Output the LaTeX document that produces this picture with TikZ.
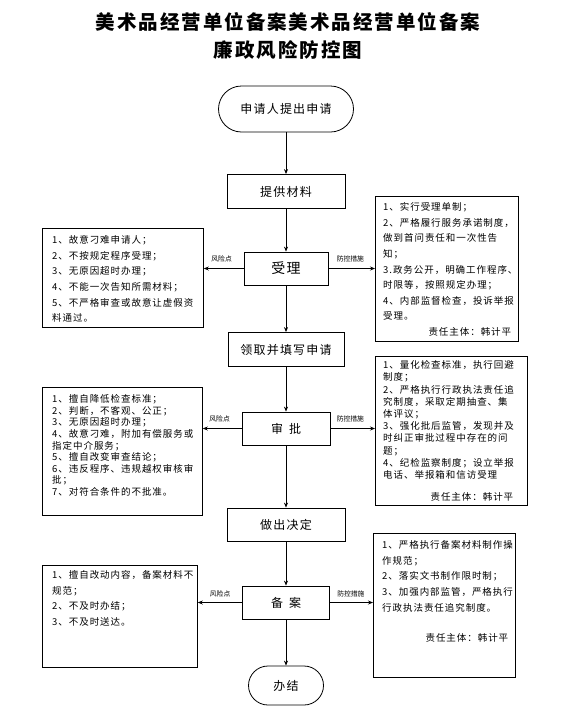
\documentclass[tikz,border=0pt]{standalone}
\usepackage{fontspec}
\newfontfamily\cjk{Noto Sans CJK SC}
\newfontfamily\cjkls{Noto Sans CJK SC}[LetterSpace=10]
\newfontfamily\cjkt{Noto Sans CJK SC}[LetterSpace=10]
\usetikzlibrary{arrows.meta,calc}
\begin{document}
\begin{tikzpicture}[x=1pt,y=-1pt,
  every node/.style={inner sep=0pt},
  mainbox/.style={draw,line width=0.8pt,font=\cjkls\fontsize{12}{14}\selectfont,minimum height=34pt},
  term/.style={draw,line width=0.8pt,font=\cjkls\fontsize{12}{14}\selectfont},
  sidebox/.style={draw,line width=0.8pt,anchor=north west},
  boxtext/.style={anchor=north west,align=left,font=\cjkls\fontsize{9.5}{15.6}\selectfont},
  arr/.style={-{Stealth[length=5pt,width=4pt]},line width=0.7pt},
  tag/.style={font=\cjk\fontsize{6.8}{8}\selectfont}
]
\useasboundingbox (0,0) rectangle (567,713);

% title
\node[font=\cjkt\bfseries\fontsize{19.5}{28}\selectfont,align=center] (title) at (288,36)
  {美术品经营单位备案美术品经营单位备案\\廉政风险防控图};

% main flow
\node[term,minimum width=135pt,minimum height=46pt,rounded corners=23pt] (start) at (286,109) {申请人提出申请};
\node[mainbox,minimum width=118pt] (tg) at (286,191.5) {提供材料};
\node[mainbox,minimum width=84pt,minimum height=33pt,font=\cjkls\fontsize{14}{16}\selectfont] (sl) at (286,268.5) {受理};
\node[mainbox,minimum width=116pt] (lq) at (286,349.5) {领取并填写申请};
\node[mainbox,minimum width=88pt,minimum height=33pt] (sp) at (286,428.5) {审\hspace{6pt}批};
\node[mainbox,minimum width=118pt,minimum height=33pt] (zc) at (286,524.5) {做出决定};
\node[mainbox,minimum width=87pt,minimum height=33pt] (ba) at (286,602.5) {备\hspace{6pt}案};
\node[term,minimum width=75pt,minimum height=39pt,rounded corners=19.5pt] (bj) at (286,685.5) {办结};

\draw[arr] (start) -- (tg);
\draw[arr] (tg) -- (sl);
\draw[arr] (sl) -- (lq);
\draw[arr] (lq) -- (sp);
\draw[arr] (sp) -- (zc);
\draw[arr] (zc) -- (ba);
\draw[arr] (ba) -- (bj);

% side boxes
\node[sidebox,minimum width=161pt,minimum height=99pt] (L1) at (42,228) {};
\node[sidebox,minimum width=143pt,minimum height=145pt] (R1) at (375,196) {};
\node[sidebox,minimum width=160pt,minimum height=128pt] (L2) at (42,387) {};
\node[sidebox,minimum width=152pt,minimum height=149pt] (R2) at (375,356) {};
\node[sidebox,minimum width=155pt,minimum height=102pt] (L3) at (42,565) {};
\node[sidebox,minimum width=142pt,minimum height=144pt] (R3) at (373,533) {};

\node[boxtext,text width=142pt] (L1t) at (52,235.5) {1、故意刁难申请人；\\2、不按规定程序受理；\\3、无原因超时办理；\\4、不能一次告知所需材料；\\5、不严格审查或故意让虚假资\\料通过。};

\node[boxtext,text width=128pt] (R1t) at (383,202.5) {1、实行受理单制；\\2、严格履行服务承诺制度，\\做到首问责任和一次性告\\知；\\3.政务公开，明确工作程序、\\时限等，按照规定办理；\\4、内部监督检查，投诉举报\\受理。\\\mbox{}\hfill 责任主体：韩计平};

\node[boxtext,text width=142pt,font=\cjkls\fontsize{9.5}{11.6}\selectfont] (L2t) at (52,394.5) {1、擅自降低检查标准；\\2、判断，不客观、公正；\\3、无原因超时办理；\\4、故意刁难，附加有偿服务或\\指定中介服务；\\5、擅自改变审查结论；\\6、违反程序、违规越权审核审\\批；\\7、对符合条件的不批准。};

\node[boxtext,text width=130pt,font=\cjkls\fontsize{9.5}{12.2}\selectfont] (R2t) at (383,360.5) {1、量化检查标准，执行回避\\制度；\\2、严格执行行政执法责任追\\究制度，采取定期抽查、集\\体评议；\\3、强化批后监管，发现并及\\时纠正审批过程中存在的问\\题；\\4、纪检监察制度；设立举报\\电话、举报箱和信访受理\\[10pt]\mbox{}\hfill 责任主体：韩计平};

\node[boxtext,text width=142pt] (L3t) at (52,570.5) {1、擅自改动内容，备案材料不\\规范；\\2、不及时办结；\\3、不及时送达。};

\node[boxtext,text width=126pt] (R3t) at (382,540.5) {1、严格执行备案材料制作操\\作规范；\\2、落实文书制作限时制；\\3、加强内部监管，严格执行\\行政执法责任追究制度。\\[15pt]\mbox{}\hfill 责任主体：韩计平};

% side arrows
\draw[arr] (sl.west) -- (sl.west -| L1.east);
\draw[arr] (sl.east) -- (sl.east -| R1.west);
\draw[arr] (sp.west) -- (sp.west -| L2.east);
\draw[arr] (sp.east) -- (sp.east -| R2.west);
\draw[arr] (ba.west) -- (ba.west -| L3.east);
\draw[arr] (ba.east) -- (ba.east -| R3.west);

\node[tag] (k1) at ($(sl.west)+(-22,-10)$) {风险点};
\node[tag] (c1) at ($(sl.east)+(22,-10)$) {防控措施};
\node[tag] (k2) at ($(sp.west)+(-22,-10)$) {风险点};
\node[tag] (c2) at ($(sp.east)+(20,-10)$) {防控措施};
\node[tag] (k3) at ($(ba.west)+(-22,-9)$) {风险点};
\node[tag] (c3) at ($(ba.east)+(21,-9)$) {防控措施};
\end{tikzpicture}
\end{document}
